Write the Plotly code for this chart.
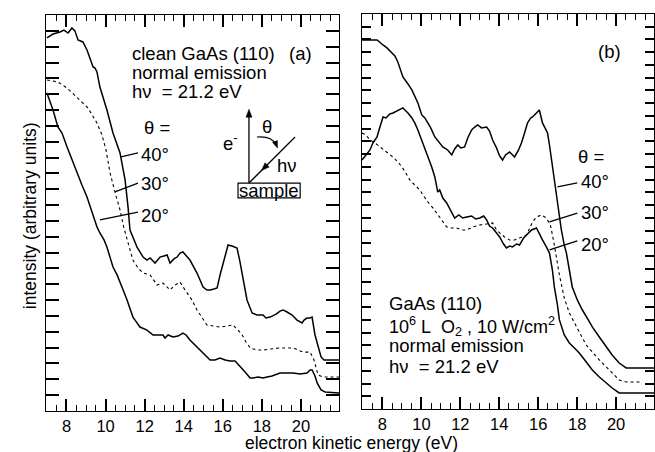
import math
import plotly.graph_objects as go

# ---------------- panel (a): clean GaAs(110) ----------------
a40_e = [7.0, 7.31, 7.67, 7.87, 8.08, 8.28, 8.43, 8.59, 8.84, 9.05, 9.36, 9.46, 9.56, 9.71,
         10.07, 10.38, 10.74, 11.0, 11.15, 11.2, 11.25, 11.61, 11.92, 12.12, 12.28, 12.53,
         12.79, 12.99, 13.15, 13.3, 13.5, 13.66, 13.81, 13.96, 14.12, 14.32, 14.68, 14.99,
         15.19, 15.35, 15.55, 15.71, 15.86, 15.96, 16.12, 16.27, 16.47, 16.73, 16.88, 17.04,
         17.24, 17.5, 17.75, 18.06, 18.21, 18.42, 18.73, 18.93, 19.09, 19.29, 19.55, 19.8,
         20.06, 20.16, 20.31, 20.47, 20.57, 20.72, 20.88, 21.03, 21.18, 21.95]
a40_i = [23.55, 23.8, 23.93, 24.05, 23.86, 24.18, 24.0, 23.42, 23.3, 22.79, 21.72, 21.65, 21.4,
         20.45, 19.0, 17.55, 16.29, 14.58, 12.88, 11.74, 11.43, 10.35, 9.72, 9.53, 9.66, 9.34,
         9.72, 9.79, 9.85, 9.34, 9.6, 9.72, 9.97, 10.04, 9.79, 9.53, 8.71, 7.83, 7.64, 7.64,
         7.70, 7.77, 8.59, 9.09, 9.79, 10.48, 10.42, 10.29, 9.41, 8.27, 7.01, 6.19, 6.06, 6.06,
         5.87, 5.93, 6.12, 6.31, 6.38, 6.25, 6.06, 5.74, 5.56, 5.74, 5.87, 5.87, 5.93, 4.80,
         4.04, 3.41, 3.22, 3.22]

a30_e = [7.0, 7.56, 8.03, 8.54, 9.1, 9.56, 9.82, 10.02, 10.23, 10.48, 10.74, 10.94, 11.15,
         11.4, 11.66, 11.92, 12.28, 12.63, 12.94, 13.3, 13.55, 13.81, 14.07, 14.42, 14.68,
         14.94, 15.19, 15.5, 15.86, 16.22, 16.52, 16.78, 16.99, 17.19, 17.4, 17.75, 18.06,
         18.42, 18.93, 19.29, 19.6, 20.11, 20.47, 20.67, 20.88, 21.13, 21.95]
a30_i = [20.9, 20.77, 20.39, 19.82, 19.13, 18.18, 17.42, 16.48, 15.03, 13.83, 12.69, 11.55,
         10.67, 9.53, 9.03, 8.71, 8.59, 7.95, 8.08, 7.64, 7.95, 8.14, 7.64, 7.01, 6.38, 5.87,
         5.43, 5.37, 5.30, 5.37, 5.43, 5.11, 4.80, 4.36, 3.98, 3.85, 3.85, 3.91, 3.98, 3.98,
         3.98, 3.72, 3.72, 3.22, 2.27, 2.15, 2.15]

a20_e = [7.0, 7.31, 7.56, 7.77, 8.03, 8.28, 8.54, 8.79, 9.05, 9.3, 9.56, 9.71, 9.92, 10.07,
         10.23, 10.38, 10.59, 10.74, 10.94, 11.1, 11.25, 11.4, 11.61, 11.76, 12.12, 12.28,
         12.43, 12.69, 12.94, 13.04, 13.2, 13.45, 13.71, 13.96, 14.12, 14.32, 14.58, 14.83,
         15.09, 15.35, 15.6, 15.86, 16.12, 16.37, 16.63, 16.88, 17.14, 17.4, 17.55, 17.81,
         18.06, 18.27, 18.52, 18.93, 19.29, 19.6, 19.96, 20.31, 20.47, 20.57, 20.72, 20.83,
         21.03, 21.24, 21.95]
a20_i = [20.08, 19.0, 17.93, 17.55, 16.67, 15.85, 15.03, 14.27, 13.51, 12.56, 11.62, 11.24,
         10.80, 10.35, 9.72, 9.09, 8.59, 8.08, 7.51, 7.01, 6.5, 5.93, 5.56, 5.30, 5.11, 4.92,
         4.80, 4.80, 4.80, 4.61, 4.80, 4.67, 4.73, 4.92, 4.80, 4.48, 4.17, 3.85, 3.54, 3.22,
         3.22, 3.35, 3.22, 3.16, 3.16, 2.78, 2.46, 2.08, 2.08, 2.15, 2.08, 2.15, 2.21, 2.40,
         2.40, 2.40, 2.34, 2.40, 2.59, 2.59, 2.21, 1.77, 1.33, 1.20, 1.14]

# ---------------- panel (b): GaAs(110) after O2 exposure ----------------
b40_e = [6.95, 7.36, 7.72, 8.03, 8.23, 8.49, 8.64, 8.79, 9.05, 9.31, 9.51, 9.82, 10.02, 10.18,
         10.33, 10.48, 10.69, 10.89, 11.1, 11.35, 11.56, 11.71, 11.87, 12.02, 12.22, 12.38,
         12.58, 12.74, 12.89, 13.09, 13.35, 13.5, 13.66, 13.86, 14.02, 14.17, 14.32, 14.53,
         14.79, 14.99, 15.14, 15.3, 15.45, 15.61, 15.71, 15.86, 16.06, 16.22, 16.37, 16.48,
         16.58, 16.73, 16.88, 16.99, 17.19, 17.34, 17.45, 17.6, 17.75, 18.01, 18.27, 18.52,
         18.78, 19.14, 19.5, 19.8, 20.16, 20.52, 21.95]
b40_i = [28.96, 28.96, 28.96, 28.57, 28.34, 27.94, 27.71, 27.24, 26.06, 25.51, 25.04, 24.02,
         23.08, 22.84, 22.45, 22.06, 21.35, 20.96, 20.57, 20.33, 19.94, 20.41, 20.72, 20.49,
         20.57, 21.27, 21.9, 22.13, 22.29, 22.06, 22.13, 21.82, 21.11, 20.49, 19.86, 19.54,
         19.94, 20.17, 19.78, 20.33, 20.88, 21.66, 22.45, 22.84, 22.92, 23.16, 23.47, 22.45,
         22.06, 21.66, 20.72, 19.0, 17.58, 16.41, 14.05, 12.87, 12.24, 10.91, 9.58, 8.56,
         7.77, 7.14, 6.44, 5.65, 4.87, 4.24, 3.61, 3.22, 3.22]

b30_e = [6.95, 7.15, 7.36, 7.62, 7.87, 8.23, 8.54, 8.79, 9.0, 9.2, 9.41, 9.66, 9.92, 10.12,
         10.33, 10.59, 10.84, 11.1, 11.3, 11.56, 11.81, 12.07, 12.33, 12.63, 13.0, 13.35,
         13.66, 13.86, 14.02, 14.27, 14.53, 14.79, 15.04, 15.4, 15.71, 15.91, 16.17, 16.42,
         16.63, 16.83, 17.09, 17.34, 17.6, 17.86, 18.11, 18.47, 18.78, 19.14, 19.5, 19.8,
         20.16, 20.52, 21.34]
b30_i = [21.66, 21.51, 21.11, 20.88, 20.57, 20.17, 19.78, 19.39, 19.0, 18.52, 17.97, 17.58,
         17.19, 16.72, 16.25, 15.78, 15.23, 14.68, 14.29, 14.21, 14.21, 14.05, 14.05, 14.29,
         14.44, 14.52, 14.6, 14.05, 13.81, 13.5, 13.27, 13.27, 13.42, 13.66, 14.68, 15.07,
         15.23, 14.99, 14.44, 12.87, 10.52, 8.71, 7.54, 6.83, 6.04, 5.02, 4.47, 3.85, 3.3,
         2.83, 2.28, 2.12, 2.12]

b20_e = [6.95, 7.21, 7.36, 7.51, 7.72, 7.87, 8.03, 8.18, 8.38, 8.54, 8.74, 8.9, 9.05, 9.15,
         9.31, 9.51, 9.66, 9.82, 10.02, 10.18, 10.33, 10.53, 10.69, 10.84, 10.94, 11.1, 11.3,
         11.51, 11.71, 11.92, 12.12, 12.33, 12.58, 12.79, 13.0, 13.2, 13.35, 13.5, 13.66,
         13.86, 14.02, 14.22, 14.37, 14.53, 14.68, 14.89, 15.04, 15.25, 15.4, 15.66, 15.91,
         16.06, 16.22, 16.42, 16.58, 16.73, 16.83, 16.99, 17.09, 17.34, 17.6, 17.86, 18.11,
         18.47, 18.78, 19.14, 19.5, 19.8, 20.16, 20.52, 21.95]
b20_i = [19.54, 20.09, 20.33, 20.88, 21.35, 22.13, 22.92, 22.84, 23.16, 23.23, 23.39, 23.47,
         23.63, 23.47, 23.23, 22.84, 22.45, 21.9, 21.11, 20.49, 19.78, 19.0, 18.21, 17.03,
         17.19, 16.56, 16.17, 15.62, 14.99, 15.23, 14.99, 15.07, 15.15, 14.91, 14.99, 15.15,
         14.84, 14.36, 14.21, 13.81, 13.5, 12.95, 12.64, 12.79, 12.72, 12.95, 12.87, 13.42,
         13.66, 14.05, 14.21, 13.81, 13.27, 12.72, 12.24, 10.91, 9.58, 8.16, 6.99, 5.81, 5.18,
         4.79, 4.4, 3.69, 3.06, 2.51, 2.04, 1.65, 1.26, 1.26, 1.26]

e_range = [6.95, 21.95]
W, H = 655, 452
DOM_XA, DOM_YA, TOP_A = [0.0702, 0.5176], [0.0907, 0.9668], 25
DOM_XB, DOM_YB, TOP_B = [0.5527, 0.9985], [0.0951, 0.969], 31

FONT = "Liberation Sans, Arial, Helvetica, sans-serif"
INK = "black"
SOLID = dict(color=INK, width=1.5)
DOTTED = dict(color=INK, width=1.1, dash="dot")
TXT = 18.5

fig = go.Figure()
for e, i, ln, ax in [
    (a40_e, a40_i, SOLID, ("x", "y")),
    (a30_e, a30_i, DOTTED, ("x", "y")),
    (a20_e, a20_i, SOLID, ("x", "y")),
    (b40_e, b40_i, SOLID, ("x2", "y2")),
    (b30_e, b30_i, DOTTED, ("x2", "y2")),
    (b20_e, b20_i, SOLID, ("x2", "y2")),
]:
    fig.add_trace(go.Scatter(x=e, y=i, mode="lines", line=ln, xaxis=ax[0], yaxis=ax[1]))

fig.update_layout(
    width=W, height=H, margin=dict(l=0, r=0, t=0, b=0),
    paper_bgcolor="white", plot_bgcolor="white", showlegend=False,
    xaxis=dict(domain=DOM_XA, anchor="y", range=e_range, ticks="inside", ticklen=12,
               tickwidth=1.5, tickcolor="black", showline=True, linecolor="black",
               dtick=2, tick0=8, mirror="ticks", showgrid=False,
               minor=dict(ticks="inside", ticklen=6, dtick=0.5, tickcolor="black",
                          tickwidth=1.3),
               tickfont=dict(family=FONT, size=16.5, color=INK)),
    yaxis=dict(domain=DOM_YA, anchor="x", range=[0, TOP_A], ticks="inside", ticklen=13,
               tickwidth=1.5, dtick=1, tickcolor="black", showline=True, linecolor="black",
               mirror="ticks", showgrid=False, showticklabels=False),
    xaxis2=dict(domain=DOM_XB, anchor="y2", range=e_range, ticks="inside", ticklen=12,
                tickwidth=1.5, tickcolor="black", showline=True, linecolor="black",
                dtick=2, tick0=8, mirror="ticks", showgrid=False,
                minor=dict(ticks="inside", ticklen=6, dtick=0.5, tickcolor="black",
                           tickwidth=1.3),
                tickfont=dict(family=FONT, size=16.5, color=INK)),
    yaxis2=dict(domain=DOM_YB, anchor="x2", range=[0, TOP_B], ticks="inside", ticklen=9,
                tickwidth=1.5, dtick=1, tickcolor="black", showline=True, linecolor="black",
                mirror="ticks", showgrid=False, showticklabels=False),
)

# pixel scale of panel (a), used to shape the arrowheads of the sketch
SX = (DOM_XA[1] - DOM_XA[0]) * W / (e_range[1] - e_range[0])
SY = (DOM_YA[1] - DOM_YA[0]) * H / TOP_A

ann = []
shapes = []


def text(x, y, s, xref="x", yref="y", xanchor="left", size=TXT):
    ann.append(dict(x=x, y=y, xref=xref, yref=yref, text=s, showarrow=False,
                    xanchor=xanchor, yanchor="middle", font=dict(family=FONT, size=size, color=INK)))


def seg(x0, y0, x1, y1, xref="x", yref="y", w=1.3):
    shapes.append(dict(type="line", x0=x0, y0=y0, x1=x1, y1=y1, xref=xref, yref=yref,
                       line=dict(color=INK, width=w)))


def head(xt, yt, xh, yh, length=8.0, half=3.0):
    """Filled arrowhead with its tip at (xh, yh), pointing away from (xt, yt)."""
    dx, dy = (xh - xt) * SX, (yh - yt) * SY
    n = math.hypot(dx, dy)
    ux, uy = dx / n, dy / n
    bx, by = -ux * length, -uy * length
    c1 = (xh + (bx - uy * half) / SX, yh + (by + ux * half) / SY)
    c2 = (xh + (bx + uy * half) / SX, yh + (by - ux * half) / SY)
    shapes.append(dict(type="path", xref="x", yref="y",
                       path=f"M {xh:.3f},{yh:.3f} L {c1[0]:.3f},{c1[1]:.3f} L {c2[0]:.3f},{c2[1]:.3f} Z",
                       fillcolor=INK, line=dict(color=INK, width=0.5)))


NBSP = "\u00a0"

# panel (a) labels
text(11.25, 22.55, "clean GaAs (110)")
text(19.29, 22.55, "(a)")
text(11.25, 21.4, "normal emission")
text(11.25, 20.2, "h\u03bd" + NBSP + " = 21.2 eV")
text(11.87, 17.87, "\u03b8 =")
text(11.72, 16.22, "40\u00b0")
text(11.72, 14.39, "30\u00b0")
text(11.72, 12.37, "20\u00b0")
seg(10.79, 16.04, 11.66, 16.29)
seg(10.48, 13.83, 11.66, 14.39)
seg(9.71, 12.06, 11.66, 12.56)

# emission geometry sketch
seg(17.34, 14.39, 17.34, 18.6)
head(17.34, 14.39, 17.34, 19.05)
seg(19.7, 17.3, 17.34, 14.39)
head(19.7, 17.3, 17.98, 15.18)
shapes.append(dict(type="path", xref="x", yref="y",
                   path="M 17.75,17.3 Q 18.5,17.38 18.72,16.82",
                   line=dict(color=INK, width=1.2)))
head(18.66, 17.05, 18.8, 16.6, length=7, half=2.6)
text(18.27, 17.93, "\u03b8", xanchor="center")
text(16.37, 16.98, "e<sup>-</sup>", xanchor="center")
text(19.29, 15.53, "h\u03bd", xanchor="center")
shapes.append(dict(type="rect", xref="x", yref="y", x0=16.78, x1=19.96, y0=13.45, y1=14.39,
                   line=dict(color=INK, width=1.2), fillcolor="white"))
text(18.37, 13.92, "sample", xanchor="center")

# panel (b) labels
text(19.65, 28.02, "(b)", xref="x2", yref="y2", xanchor="center")
text(18.73, 19.78, "\u03b8 =", xref="x2", yref="y2", xanchor="center")
text(18.08, 17.82, "40\u00b0", xref="x2", yref="y2")
text(18.08, 15.46, "30\u00b0", xref="x2", yref="y2")
text(18.08, 12.95, "20\u00b0", xref="x2", yref="y2")
seg(16.99, 17.43, 18.01, 17.74, "x2", "y2")
seg(16.58, 14.68, 18.01, 15.38, "x2", "y2")
seg(16.58, 12.48, 18.01, 13.19, "x2", "y2")
text(8.23, 8.32, "GaAs (110)", xref="x2", yref="y2")
text(8.23, 6.44, "10<sup>6</sup> L" + NBSP + NBSP + "O<sub>2</sub> , 10 W/cm<sup>2</sup>",
     xref="x2", yref="y2", size=18)
text(8.23, 4.95, "normal emission", xref="x2", yref="y2")
text(8.23, 3.3, "h\u03bd" + NBSP + " = 21.2 eV", xref="x2", yref="y2")

# shared axis titles
text(0.537, 0.019, "electron kinetic energy (eV)", xref="paper", yref="paper",
     xanchor="center", size=17.5)
ann.append(dict(x=0.0458, y=0.524, xref="paper", yref="paper", text="intensity (arbitrary units)",
                showarrow=False, textangle=-90, xanchor="center", yanchor="middle",
                font=dict(family=FONT, size=17.5, color=INK)))

fig.update_layout(annotations=ann, shapes=shapes)
fig.write_html("out.html")
